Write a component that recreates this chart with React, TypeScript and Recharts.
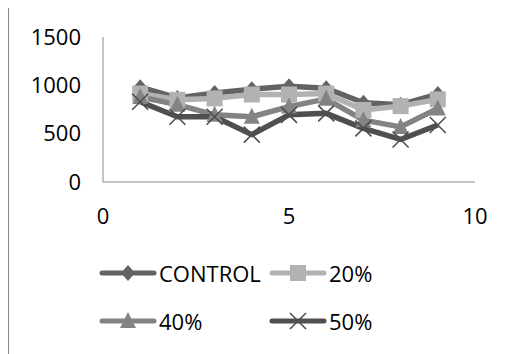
import React from 'react';
import { LineChart, Line, XAxis, YAxis } from 'recharts';

const xValues = [1, 2, 3, 4, 5, 6, 7, 8, 9];
const control = [980, 870, 920, 960, 990, 970, 820, 800, 910];
const pct20 = [915, 850, 865, 905, 905, 915, 745, 785, 855];
const pct40 = [880, 800, 695, 675, 780, 860, 640, 570, 760];
const pct50 = [830, 675, 675, 490, 695, 710, 555, 440, 590];
const xTicks = [0, 5, 10];
const yTicks = [0, 500, 1000, 1500];

const FONT = 'Open Sans, Liberation Sans, sans-serif';

type Shape = 'diamond' | 'square' | 'triangle' | 'x';

const SERIES: { key: string; name: string; color: string; shape: Shape }[] = [
    { key: 'control', name: 'CONTROL', color: '#636363', shape: 'diamond' },
    { key: 'p20', name: '20%', color: '#b2b2b2', shape: 'square' },
    { key: 'p40', name: '40%', color: '#838383', shape: 'triangle' },
    { key: 'p50', name: '50%', color: '#4f4f4f', shape: 'x' },
];

const data = xValues.map((x, i) => ({
    x,
    control: control[i],
    p20: pct20[i],
    p40: pct40[i],
    p50: pct50[i],
}));

const Marker = ({ cx, cy, shape, color }: { cx: number; cy: number; shape: Shape; color: string }) => {
    if (cx == null || cy == null) return null;
    switch (shape) {
        case 'diamond':
            return <path d={`M${cx},${cy - 8}L${cx + 7},${cy}L${cx},${cy + 8}L${cx - 7},${cy}Z`} fill={color} />;
        case 'square':
            return <rect x={cx - 8} y={cy - 8} width={16} height={16} fill={color} />;
        case 'triangle':
            return <path d={`M${cx},${cy - 9}L${cx + 8},${cy + 7}L${cx - 8},${cy + 7}Z`} fill={color} />;
        case 'x':
        default:
            return (
                <path
                    d={`M${cx - 8},${cy - 8}L${cx + 8},${cy + 8}M${cx + 8},${cy - 8}L${cx - 8},${cy + 8}`}
                    stroke={color}
                    strokeWidth={1.6}
                    fill="none"
                />
            );
    }
};

const LegendItem = ({ name, color, shape }: { name: string; color: string; shape: Shape }) => (
    <div style={{ display: 'flex', alignItems: 'center', height: 24 }}>
        <svg width={58} height={22}>
            <line x1={3} y1={11} x2={55} y2={11} stroke={color} strokeWidth={5} strokeLinecap="round" />
            <Marker cx={29} cy={11} shape={shape} color={color} />
        </svg>
        <span style={{ marginLeft: 2, fontSize: 22, color: '#000' }}>{name}</span>
    </div>
);

export default function App() {
    return (
        <div
            style={{
                position: 'relative',
                width: 520,
                height: 360,
                marginTop: -1,
                borderLeft: '1px solid #8a8a8a',
                borderTop: '1px solid #8a8a8a',
                fontFamily: FONT,
                background: '#fff',
            }}
        >
            <div style={{ position: 'absolute', left: 0, top: 0 }}>
                <LineChart
                    width={495}
                    height={234}
                    data={data}
                    margin={{ top: 29, right: 29, bottom: 0, left: 0 }}
                    style={{ fontFamily: FONT }}
                >
                    <XAxis
                        dataKey="x"
                        type="number"
                        domain={[0, 10]}
                        ticks={xTicks}
                        tickLine={false}
                        tickSize={0}
                        tickMargin={26}
                        height={60}
                        stroke="#8a8a8a"
                        tick={{ fill: '#000', fontSize: 22 }}
                    />
                    <YAxis
                        type="number"
                        domain={[0, 1500]}
                        ticks={yTicks}
                        tickLine={false}
                        tickSize={0}
                        tickMargin={22}
                        width={94}
                        stroke="#8a8a8a"
                        tick={{ fill: '#000', fontSize: 22 }}
                    />
                    {SERIES.map((s) => (
                        <Line
                            key={s.key}
                            dataKey={s.key}
                            name={s.name}
                            stroke={s.color}
                            strokeWidth={5.5}
                            strokeLinejoin="round"
                            isAnimationActive={false}
                            dot={(p: any) => (
                                <Marker key={`${s.key}-${p.index}`} cx={p.cx} cy={p.cy} shape={s.shape} color={s.color} />
                            )}
                            activeDot={false}
                        />
                    ))}
                </LineChart>
            </div>
            <div
                style={{
                    position: 'absolute',
                    left: 90,
                    top: 253,
                    display: 'grid',
                    gridTemplateColumns: '170px 120px',
                    rowGap: 24,
                }}
            >
                {SERIES.map((s) => (
                    <LegendItem key={s.key} name={s.name} color={s.color} shape={s.shape} />
                ))}
            </div>
        </div>
    );
}
